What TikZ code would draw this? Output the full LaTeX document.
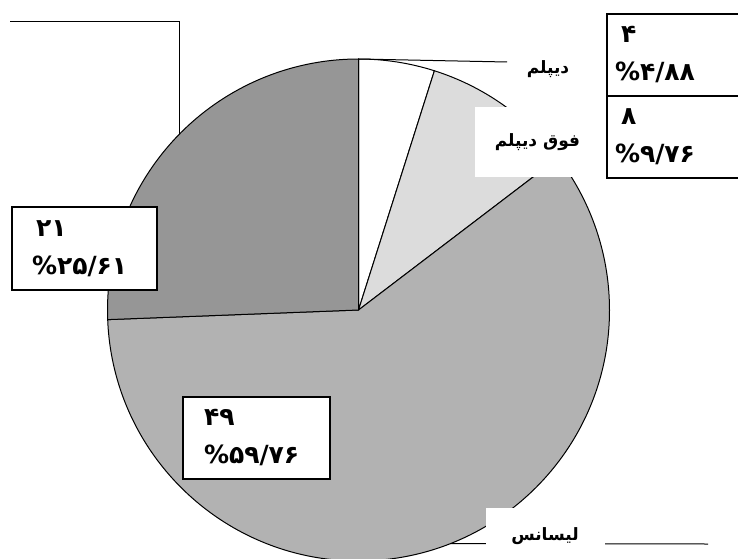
\documentclass[tikz,border=0pt]{standalone}
\usepackage{fontspec}
\newfontfamily\arabicfont[Script=Arabic]{DejaVu Sans}
\TeXXeTstate=1
\usetikzlibrary{positioning}
\definecolor{darkslice}{HTML}{969696}
\definecolor{midslice}{HTML}{B2B2B2}
\definecolor{lightslice}{HTML}{DCDCDC}
\def\pieR{251}

\begin{document}
\begin{tikzpicture}[x=1pt,y=1pt,
  slice/.style={draw=black, line width=1pt},
  valbox/.style={draw=black, line width=1.6pt, fill=white, outer sep=0pt,
    align=left, inner ysep=0pt,
    font=\arabicfont\bfseries\fontsize{25}{38}\selectfont},
  namebox/.style={fill=white, inner sep=0pt,
    font=\arabicfont\bfseries\fontsize{17}{20}\selectfont},
  leader/.style={draw=black, line width=1pt}]
  \clip (0,0) rectangle (738,558);
  \fill[white] (0,0) rectangle (738,558);
  \coordinate (c) at (358.5,248);
  \filldraw[slice, fill=white] (c) -- ++(72.4:\pieR) arc[start angle=72.4, end angle=90, radius=\pieR] -- cycle;
  \filldraw[slice, fill=lightslice] (c) -- ++(37.3:\pieR) arc[start angle=37.3, end angle=72.4, radius=\pieR] -- cycle;
  \filldraw[slice, fill=midslice] (c) -- ++(-177.8:\pieR) arc[start angle=-177.8, end angle=37.3, radius=\pieR] -- cycle;
  \filldraw[slice, fill=darkslice] (c) -- ++(90:\pieR) arc[start angle=90, end angle=182.2, radius=\pieR] -- cycle;
  \path (c) ++(90:\pieR) coordinate (diptop);
  \path (c) ++(135.6:\pieR) coordinate (darkpt);
  \path (c) ++(-68.5:\pieR) coordinate (lispt);
  \coordinate (dipend) at (507,496);
  \coordinate (darkend) at (10,536);
  \coordinate (lisend) at (708,14);
  \draw[leader] (diptop) -- (dipend);
  \draw[leader] (darkpt) |- (darkend);
  \draw[leader] (lispt) -- (lisend);
  \node[namebox] (diplabel) at (548,489) {\beginR دیپلم\endR};
  \node[namebox, minimum width=125pt, minimum height=70pt] (fdlabel) at (537.5,416) {\beginR فوق دیپلم\endR};
  \node[namebox, minimum width=119pt, minimum height=57pt] (lislabel) at (545,21.5) {\beginR لیسانس\endR};
  \node[valbox, inner xsep=8pt, text width=122pt, minimum height=82pt] (dipval) at (676,503) {\hspace*{6pt}۴\\\%۴/۸۸};
  \node[valbox, inner xsep=8pt, text width=122pt, minimum height=82pt, below=0pt of dipval] (fdval) {\hspace*{6pt}۸\\\%۹/۷۶};
  \node[valbox, inner xsep=20pt, text width=105pt, minimum height=83pt] (darkval) at (84.5,309.5) {\hspace*{4pt}۲۱\\\%۲۵/۶۱};
  \node[valbox, inner xsep=21pt, text width=105pt, minimum height=82pt] (lisval) at (256.5,120) {۴۹\\\%۵۹/۷۶};
\end{tikzpicture}
\end{document}
